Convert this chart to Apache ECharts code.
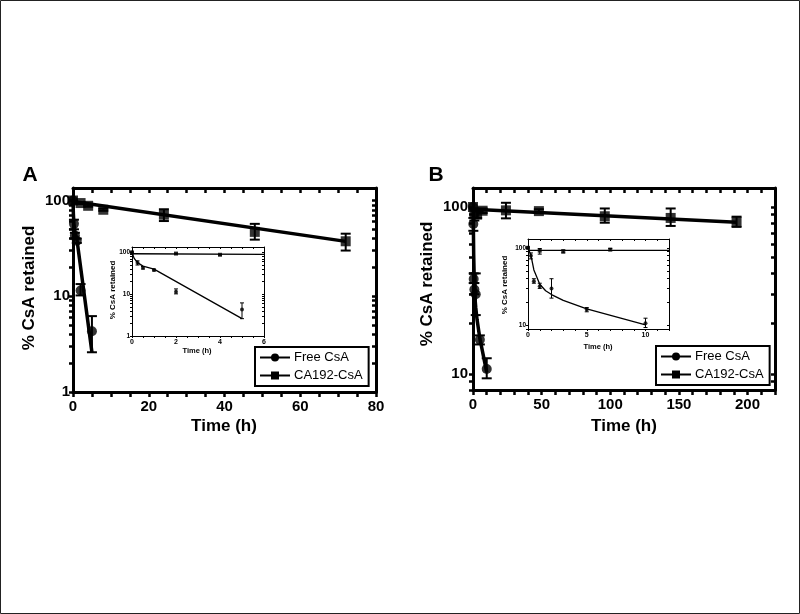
<!DOCTYPE html>
<html>
<head>
<meta charset="utf-8">
<script src="https://cdn.jsdelivr.net/npm/echarts@6/dist/echarts.min.js"></script>
<style>
html,body{margin:0;padding:0;background:#fff;}
#c{width:800px;height:614px;}
</style>
</head>
<body>
<div id="c"></div>
<script>
// ---------- Panel A data ----------
var aFreeT   = [0, 0.25, 0.5, 1, 2, 5];
var aFreeY   = [100, 57, 43, 38, 11.5, 4.3];
var aFreeLo  = [100, 50, 40, 36, 10.2, 2.6];
var aFreeHi  = [100, 63, 46, 40, 13.4, 6.2];
var aCaT     = [0, 2, 4, 8, 24, 48, 72];
var aCaY     = [100, 94, 88, 80, 71, 47, 37.5];
var aCaLo    = [100, 92, 86, 78, 61, 39, 30];
var aCaHi    = [100, 96, 90, 82, 81, 57, 45];
var aFreeFitT = [0, 0.1, 0.25, 0.5, 1, 5];
var aFreeFitY = [100, 72, 57, 47, 40, 2.6];
var aCaFitT   = [0, 72];
var aCaFitY   = [97.5, 37.4];
var aInCaFitT = [0, 6];
var aInCaFitY = [93, 90];

// ---------- Panel B data ----------
var bFreeT   = [0, 0.25, 0.5, 1, 2, 5, 10];
var bFreeY   = [100, 79, 37, 32, 30, 16, 10.7];
var bFreeLo  = [100, 72, 35, 30, 22.5, 15, 9.4];
var bFreeHi  = [100, 86, 40, 35, 40, 17, 12.4];
var bCaT     = [0, 1, 3, 7, 24, 48, 96, 144, 192];
var bCaY     = [100, 92, 90, 95, 95.5, 94.5, 88, 86, 81.5];
var bCaLo    = [100, 83, 86, 92, 85.5, 92, 80.5, 77, 76];
var bCaHi    = [100, 98, 94, 98, 106, 97, 98, 98, 87.5];
var bFreeFitT = [0, 0.25, 0.5, 1, 1.5, 2, 3, 5, 10];
var bFreeFitY = [100, 80, 52, 34, 28, 25, 21, 16.3, 10.2];
var bCaFitT   = [0, 192];
var bCaFitY   = [97, 81];
var bInCaFitT = [0, 12];
var bInCaFitY = [93, 93];

// ---------- tick labels / tick positions ----------
var aXLabels   = [0, 20, 40, 60, 80];
var aXTicks    = [0,5,10,15,20,25,30,35,40,45,50,55,60,65,70,75,80];
var aInXLabels = [0, 2, 4, 6];
var aInXTicks  = [0,0.5,1,1.5,2,2.5,3,3.5,4,4.5,5,5.5,6];
var bXLabels   = [0, 50, 100, 150, 200];
var bXTicks    = [0,10,20,30,40,50,60,70,80,90,100,110,120,130,140,150,160,170,180,190,200,210,220];
var bInXLabels = [0, 5, 10];
var bInXTicks  = [0,1,2,3,4,5,6,7,8,9,10,11,12];
var aYLabels   = [1, 10, 100];
var aYTicks    = [1,2,3,4,5,6,7,8,9,10,20,30,40,50,60,70,80,90,100];
var bYLabels   = [10, 100];
var bYTicks    = [8,9,10,20,30,40,50,60,70,80,90,100];
var bInYTicks  = [9,10,20,30,40,50,60,70,80,90,100];

var FONT = 'Liberation Sans, Arial, Helvetica, sans-serif';

function pairs(t, y, maxT) {
  var out = [];
  for (var i = 0; i < t.length; i++) if (t[i] <= maxT) out.push([t[i], y[i]]);
  return out;
}
function triples(t, lo, hi, maxT) {
  var out = [];
  for (var i = 0; i < t.length; i++) if (t[i] <= maxT && hi[i] > lo[i]) out.push([t[i], lo[i], hi[i]]);
  return out;
}
function errRender(cap, lw) {
  return function (params, api) {
    var x = api.value(0), lo = api.value(1), hi = api.value(2);
    var p1 = api.coord([x, lo]), p2 = api.coord([x, hi]);
    var st = {stroke: '#000', lineWidth: lw};
    return {type: 'group', children: [
      {type: 'line', shape: {x1: p1[0], y1: p1[1], x2: p2[0], y2: p2[1]}, style: st},
      {type: 'line', shape: {x1: p1[0] - cap, y1: p1[1], x2: p1[0] + cap, y2: p1[1]}, style: st},
      {type: 'line', shape: {x1: p2[0] - cap, y1: p2[1], x2: p2[0] + cap, y2: p2[1]}, style: st}
    ]};
  };
}

function xAx(grid, min, max, labels, ticks, main, fs) {
  var lw = main ? 3 : 1;
  return [{
    type: 'value', gridIndex: grid, min: min, max: max, position: 'bottom',
    splitLine: {show: false},
    axisLine: {show: true, onZero: false, lineStyle: {color: '#000', width: lw}},
    axisTick: {show: true, customValues: ticks, length: main ? 5 : 2, lineStyle: {color: '#000', width: main ? 2.5 : 1}},
    axisLabel: {show: true, customValues: labels, margin: main ? 7 : 3, color: '#000', fontWeight: 'bold', fontSize: fs, fontFamily: FONT}
  }, {
    type: 'value', gridIndex: grid, min: min, max: max, position: 'top',
    splitLine: {show: false},
    axisLine: {show: true, onZero: false, lineStyle: {color: '#000', width: lw}},
    axisTick: {show: true, inside: true, customValues: ticks, length: main ? 5 : 2, lineStyle: {color: '#000', width: main ? 2.5 : 1}},
    axisLabel: {show: false}
  }];
}
function yAx(grid, min, max, labels, ticks, main, fs, margin) {
  var lw = main ? 3 : 1;
  return [{
    type: 'log', logBase: 10, gridIndex: grid, min: min, max: max, position: 'left',
    splitLine: {show: false},
    axisLine: {show: true, onZero: false, lineStyle: {color: '#000', width: lw}},
    axisTick: {show: true, customValues: ticks, length: main ? 4 : 2, lineStyle: {color: '#000', width: main ? 2.5 : 1}},
    axisLabel: {show: true, customValues: labels, margin: margin, color: '#000', fontWeight: 'bold', fontSize: fs, fontFamily: FONT}
  }, {
    type: 'log', logBase: 10, gridIndex: grid, min: min, max: max, position: 'right',
    splitLine: {show: false},
    axisLine: {show: true, onZero: false, lineStyle: {color: '#000', width: lw}},
    axisTick: {show: true, inside: true, customValues: ticks, length: main ? 4 : 2, lineStyle: {color: '#000', width: main ? 2.5 : 1}},
    axisLabel: {show: false}
  }];
}

var xAxes = [].concat(
  xAx(0, 0, 80, aXLabels, aXTicks, true, 15),
  xAx(1, 0, 6, aInXLabels, aInXTicks, false, 7),
  xAx(2, 0, 220, bXLabels, bXTicks, true, 15),
  xAx(3, 0, 12, bInXLabels, bInXTicks, false, 7)
);
var yAxes = [].concat(
  yAx(0, 1, 135, aYLabels, aYTicks, true, 15, 3),
  yAx(1, 1, 135, aYLabels, aYTicks, false, 6.5, 2),
  yAx(2, 8, 130, bYLabels, bYTicks, true, 15, 5),
  yAx(3, 9, 130, bYLabels, bInYTicks, false, 6.5, 2)
);

function panelSeries(gi, freeT, freeY, freeLo, freeHi, caT, caY, caLo, caHi,
                     freeFitT, freeFitY, caFitT, caFitY, maxT, main) {
  var xi = gi * 2, yi = gi * 2;
  var lw = main ? 3.5 : 1.3;
  var ms = main ? 10 : 4;
  var cap = main ? 5 : 2;
  var elw = main ? 2 : 1;
  return [
    {type: 'line', name: 'Free CsA', xAxisIndex: xi, yAxisIndex: yi, data: pairs(freeFitT, freeFitY, maxT),
     showSymbol: false, symbol: 'none', lineStyle: {color: '#000', width: lw}, silent: true, z: 3, legendHoverLink: false,
     tooltip: {show: false}},
    {type: 'line', name: 'CA192-CsA', xAxisIndex: xi, yAxisIndex: yi, data: pairs(caFitT, caFitY, maxT),
     showSymbol: false, symbol: 'none', lineStyle: {color: '#000', width: lw}, silent: true, z: 3},
    {type: 'custom', name: 'errFree' + gi, xAxisIndex: xi, yAxisIndex: yi, renderItem: errRender(cap, elw),
     data: triples(freeT, freeLo, freeHi, maxT), encode: {x: 0, y: [1, 2]}, z: 4, silent: true},
    {type: 'custom', name: 'errCa' + gi, xAxisIndex: xi, yAxisIndex: yi, renderItem: errRender(cap, elw),
     data: triples(caT, caLo, caHi, maxT), encode: {x: 0, y: [1, 2]}, z: 4, silent: true},
    {type: 'scatter', name: 'Free CsA', xAxisIndex: xi, yAxisIndex: yi, data: pairs(freeT, freeY, maxT),
     symbol: 'circle', symbolSize: ms, itemStyle: {color: '#000'}, z: 5, silent: true},
    {type: 'scatter', name: 'CA192-CsA', xAxisIndex: xi, yAxisIndex: yi, data: pairs(caT, caY, maxT),
     symbol: 'rect', symbolSize: ms, itemStyle: {color: '#000'}, z: 5, silent: true}
  ];
}

// legend-only series (line with marker icon)
var legendSeries = [
  {type: 'line', name: 'Free CsA', xAxisIndex: 0, yAxisIndex: 0, data: [], symbol: 'circle', symbolSize: 10,
   lineStyle: {color: '#000', width: 3}, itemStyle: {color: '#000'}},
  {type: 'line', name: 'CA192-CsA', xAxisIndex: 0, yAxisIndex: 0, data: [], symbol: 'rect', symbolSize: 10,
   lineStyle: {color: '#000', width: 3}, itemStyle: {color: '#000'}}
];

var series = [].concat(
  legendSeries,
  panelSeries(0, aFreeT, aFreeY, aFreeLo, aFreeHi, aCaT, aCaY, aCaLo, aCaHi, aFreeFitT, aFreeFitY, aCaFitT, aCaFitY, 80, true),
  panelSeries(1, aFreeT, aFreeY, aFreeLo, aFreeHi, aCaT, aCaY, aCaLo, aCaHi, aFreeFitT, aFreeFitY, aInCaFitT, aInCaFitY, 6, false),
  panelSeries(2, bFreeT, bFreeY, bFreeLo, bFreeHi, bCaT, bCaY, bCaLo, bCaHi, bFreeFitT, bFreeFitY, bCaFitT, bCaFitY, 220, true),
  panelSeries(3, bFreeT, bFreeY, bFreeLo, bFreeHi, bCaT, bCaY, bCaLo, bCaHi, bFreeFitT, bFreeFitY, bInCaFitT, bInCaFitY, 12, false)
);

function legendAt(left, top) {
  return {
    data: ['Free CsA', 'CA192-CsA'], orient: 'vertical', left: left, top: top,
    itemWidth: 30, itemHeight: 10, itemGap: 5, padding: [4, 6, 4, 4],
    borderColor: '#000', borderWidth: 2, borderRadius: 0, selectedMode: false,
    textStyle: {color: '#000', fontSize: 13, fontFamily: FONT, padding: [0, 0, 0, -1]}
  };
}

function txt(x, y, s, size, rot) {
  return {type: 'text', x: x, y: y, rotation: rot || 0,
    style: {text: s, fill: '#000', font: 'bold ' + size + 'px ' + FONT, align: 'center', verticalAlign: 'middle'}};
}

var option = {
  animation: false,
  backgroundColor: '#fff',
  textStyle: {fontFamily: FONT},
  grid: [
    {left: 73, top: 188, width: 303, height: 204},
    {left: 132, top: 247, width: 132, height: 89},
    {left: 473, top: 188, width: 302, height: 202},
    {left: 528, top: 239, width: 141, height: 90}
  ],
  xAxis: xAxes,
  yAxis: yAxes,
  legend: [legendAt(255, 347), legendAt(656, 346)],
  series: series,
  graphic: [
    {type: 'rect', shape: {x: 0.5, y: 0.5, width: 799, height: 613}, style: {fill: 'none', stroke: '#222', lineWidth: 1}},
    txt(30, 175, 'A', 21),
    txt(436, 175, 'B', 21),
    txt(29, 288, '% CsA retained', 17, Math.PI / 2),
    txt(427, 284, '% CsA retained', 17, Math.PI / 2),
    txt(224, 426, 'Time (h)', 17),
    txt(624, 426, 'Time (h)', 17),
    txt(113, 290, '% CsA retained', 8, Math.PI / 2),
    txt(505, 285, '% CsA retained', 8, Math.PI / 2),
    txt(197, 351, 'Time (h)', 7.5),
    txt(598, 347, 'Time (h)', 7.5)
  ]
};

var chart = echarts.init(document.getElementById('c'), null, {renderer: 'canvas'});
chart.setOption(option);
</script>
</body>
</html>
